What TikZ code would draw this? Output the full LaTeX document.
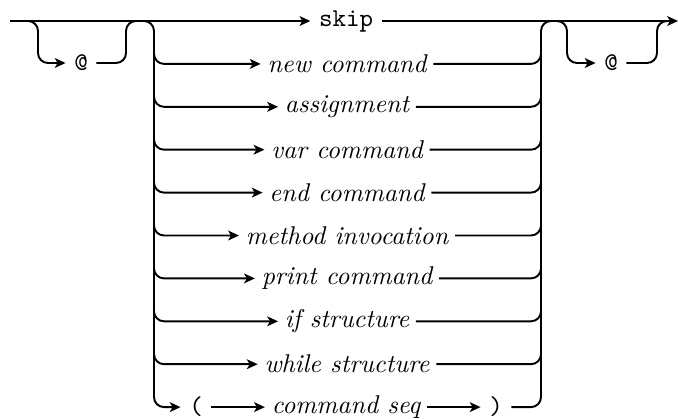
\documentclass[tikz,border=0pt]{standalone}
\usetikzlibrary{arrows.meta}
\begin{document}
\begin{tikzpicture}[x=0.389pt,y=-0.389pt,
  line width=0.75pt,
  conn/.style={-{Stealth[length=4.2pt,width=3.8pt,inset=1.1pt]}},
  rr/.style={rounded corners=3.9pt},
  nt/.style={inner sep=2.3pt,font=\itshape},
  term/.style={inner sep=3pt,font=\ttfamily}]
\useasboundingbox (0,0) rectangle (678,418);
\def\rowy#1{21+#1*42.9}
% coordinates
\coordinate (start) at (10,21);
\coordinate (finish) at (678,21);
% labels
\node[term] (skip) at (346,21) {skip};
\node[term] (atL) at (81,63) {@};
\node[term] (atR) at (611,63) {@};
\node[nt] (l1) at (347,{\rowy{1}}) {new command};
\node[nt] (l2) at (347,{\rowy{2}}) {assignment};
\node[nt] (l3) at (347,{\rowy{3}}) {var command};
\node[nt] (l4) at (347,{\rowy{4}}) {end command};
\node[nt] (l5) at (347,{\rowy{5}}) {method invocation};
\node[nt] (l6) at (347,{\rowy{6}}) {print command};
\node[nt] (l7) at (347,{\rowy{7}}) {if structure};
\node[nt] (l8) at (347,{\rowy{8}}) {while structure};
\node[term] (lp) at (196,{\rowy{9}}) {(};
\node[nt] (cs) at (346,{\rowy{9}}) {command seq};
\node[term] (rp) at (496,{\rowy{9}}) {)};
% main line
\draw[conn] (start) -- (skip.west);
\draw[conn] (skip.east) -- (finish);
% left bypass
\draw[conn,rr] (24,21) -- (38,21) -- (38,63) -- (atL.west);
\draw[rr] (atL.east) -- (126,63) -- (126,21) -- (140,21);
% right bypass
\draw[conn,rr] (553,21) -- (567,21) -- (567,63) -- (atR.west);
\draw[rr] (atR.east) -- (657,63) -- (657,21) -- (671,21);
% rails
\draw[conn,rr] (140,21) -- (154,21) -- (154,{\rowy{9}}) -- (lp.west);
\draw[rr] (rp.east) -- (541,{\rowy{9}}) -- (541,21) -- (555,21);
\draw[conn] (lp.east) -- (cs.west);
\draw[conn] (cs.east) -- (rp.west);
% rows
\foreach \k in {1,...,8}{
  \draw[conn,rr] (154,{\rowy{\k}-15}) -- (154,{\rowy{\k}}) -- (l\k.west);
  \draw[rr] (l\k.east) -- (541,{\rowy{\k}}) -- (541,{\rowy{\k}-15});
}
\end{tikzpicture}
\end{document}
